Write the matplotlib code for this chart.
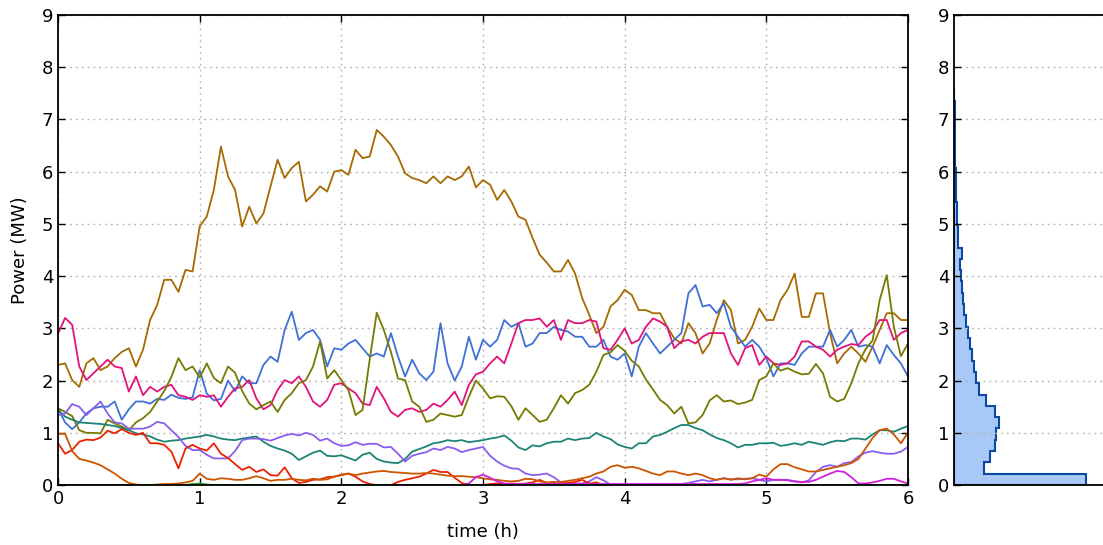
import numpy as np
import matplotlib
matplotlib.use("Agg")
import matplotlib.pyplot as plt

plt.rc('font', size=13)

# time axis: one reading every 0.05 h
time = np.linspace(0, 6, 121)

gold = [2.30, 2.33, 2.01, 1.88, 2.33, 2.43, 2.20, 2.27, 2.43, 2.55,
        2.62, 2.27, 2.59, 3.16, 3.45, 3.93, 3.93, 3.70, 4.12, 4.09,
        4.95, 5.14, 5.65, 6.48, 5.91, 5.65, 4.95, 5.33, 5.01, 5.20,
        5.72, 6.23, 5.88, 6.07, 6.19, 5.43, 5.56, 5.72, 5.62, 6.00,
        6.03, 5.94, 6.42, 6.26, 6.29, 6.80, 6.67, 6.51, 6.29, 5.97,
        5.88, 5.84, 5.78, 5.91, 5.78, 5.91, 5.84, 5.91, 6.10, 5.70,
        5.84, 5.75, 5.46, 5.65, 5.43, 5.14, 5.08, 4.73, 4.41, 4.26,
        4.09, 4.09, 4.31, 4.05, 3.58, 3.26, 2.91, 3.03, 3.42, 3.54,
        3.74, 3.64, 3.35, 3.35, 3.29, 3.29, 3.03, 2.81, 2.71, 3.10,
        2.91, 2.52, 2.71, 3.16, 3.54, 3.35, 2.71, 2.78, 3.03, 3.38,
        3.16, 3.16, 3.54, 3.74, 4.05, 3.22, 3.22, 3.67, 3.67, 2.91,
        2.33, 2.52, 2.65, 2.52, 2.36, 2.65, 2.97, 3.29, 3.29, 3.16, 3.16]

blue = [1.47, 1.20, 1.07, 1.20, 1.37, 1.47, 1.50, 1.50, 1.60, 1.25,
        1.45, 1.60, 1.60, 1.56, 1.65, 1.63, 1.73, 1.67, 1.65, 1.68,
        2.20, 1.75, 1.62, 1.65, 2.00, 1.80, 2.08, 1.95, 1.95, 2.30,
        2.46, 2.36, 2.97, 3.32, 2.78, 2.91, 2.97, 2.78, 2.27, 2.62,
        2.59, 2.71, 2.78, 2.62, 2.46, 2.52, 2.46, 2.91, 2.46, 2.08,
        2.40, 2.14, 2.01, 2.17, 3.10, 2.33, 2.00, 2.27, 2.84, 2.40,
        2.78, 2.65, 2.78, 3.16, 3.03, 3.10, 2.65, 2.71, 2.91, 2.91,
        3.03, 2.97, 2.94, 2.84, 2.84, 2.65, 2.65, 2.78, 2.46, 2.40,
        2.52, 2.08, 2.65, 2.91, 2.71, 2.52, 2.65, 2.78, 2.91, 3.67,
        3.83, 3.42, 3.45, 3.29, 3.48, 3.03, 2.84, 2.65, 2.78, 2.65,
        2.43, 2.08, 2.33, 2.33, 2.30, 2.52, 2.65, 2.65, 2.65, 2.97,
        2.65, 2.78, 2.97, 2.65, 2.68, 2.65, 2.33, 2.68, 2.49, 2.33, 2.08]

magenta = [2.90, 3.20, 3.07, 2.27, 2.01, 2.14, 2.27, 2.40, 2.27, 2.24,
           1.79, 2.08, 1.72, 1.88, 1.79, 1.88, 1.92, 1.72, 1.69, 1.63,
           1.72, 1.69, 1.72, 1.50, 1.69, 1.85, 1.88, 2.01, 1.66, 1.45,
           1.53, 1.82, 2.01, 1.95, 2.08, 1.88, 1.60, 1.50, 1.63, 1.92,
           1.95, 1.85, 1.76, 1.56, 1.53, 1.88, 1.66, 1.40, 1.31, 1.44,
           1.47, 1.40, 1.44, 1.56, 1.50, 1.63, 1.79, 1.53, 1.92, 2.12,
           2.17, 2.33, 2.46, 2.33, 2.71, 3.10, 3.16, 3.16, 3.19, 3.03,
           3.16, 2.78, 3.16, 3.10, 3.10, 3.16, 3.13, 2.62, 2.59, 2.78,
           3.00, 2.71, 2.78, 3.03, 3.19, 3.13, 3.03, 2.62, 2.75, 2.78,
           2.71, 2.84, 2.91, 2.91, 2.91, 2.52, 2.30, 2.62, 2.68, 2.30,
           2.46, 2.33, 2.30, 2.33, 2.46, 2.75, 2.75, 2.65, 2.59, 2.46,
           2.59, 2.65, 2.70, 2.68, 2.84, 2.94, 3.16, 3.16, 2.78, 2.91, 2.97]

olive = [1.47, 1.40, 1.32, 1.05, 1.00, 1.00, 0.99, 1.25, 1.18, 1.12,
         1.05, 1.20, 1.28, 1.40, 1.60, 1.80, 2.07, 2.43, 2.20, 2.27,
         2.06, 2.33, 2.05, 1.95, 2.27, 2.15, 1.80, 1.56, 1.45, 1.53,
         1.60, 1.40, 1.63, 1.76, 1.95, 2.01, 2.27, 2.75, 2.04, 2.20,
         2.01, 1.82, 1.34, 1.44, 2.40, 3.30, 2.97, 2.55, 2.04, 2.01,
         1.60, 1.50, 1.21, 1.25, 1.37, 1.34, 1.31, 1.34, 1.69, 2.00,
         1.85, 1.66, 1.70, 1.69, 1.51, 1.25, 1.47, 1.34, 1.21, 1.25,
         1.47, 1.72, 1.56, 1.76, 1.82, 1.92, 2.17, 2.49, 2.54, 2.68,
         2.57, 2.38, 2.27, 2.02, 1.83, 1.63, 1.53, 1.37, 1.50, 1.18,
         1.20, 1.34, 1.62, 1.72, 1.60, 1.62, 1.55, 1.58, 1.63, 2.01,
         2.08, 2.33, 2.19, 2.24, 2.17, 2.12, 2.13, 2.32, 2.14, 1.69,
         1.60, 1.65, 1.95, 2.33, 2.60, 2.77, 3.54, 4.02, 3.03, 2.47, 2.71]

teal = [1.44, 1.31, 1.25, 1.20, 1.19, 1.18, 1.17, 1.15, 1.13, 1.09,
        1.05, 0.99, 0.97, 0.93, 0.87, 0.83, 0.85, 0.86, 0.89, 0.91,
        0.93, 0.96, 0.93, 0.89, 0.87, 0.86, 0.89, 0.91, 0.93, 0.83,
        0.75, 0.70, 0.66, 0.60, 0.48, 0.55, 0.62, 0.66, 0.56, 0.55,
        0.57, 0.52, 0.47, 0.58, 0.62, 0.50, 0.45, 0.43, 0.42, 0.50,
        0.64, 0.69, 0.74, 0.80, 0.82, 0.86, 0.84, 0.86, 0.82, 0.84,
        0.86, 0.89, 0.91, 0.95, 0.85, 0.72, 0.67, 0.76, 0.74, 0.80,
        0.83, 0.83, 0.89, 0.86, 0.89, 0.90, 1.00, 0.93, 0.88, 0.78,
        0.73, 0.70, 0.80, 0.80, 0.93, 0.96, 1.02, 1.09, 1.15, 1.15,
        1.09, 1.05, 0.97, 0.90, 0.86, 0.80, 0.72, 0.77, 0.77, 0.80,
        0.80, 0.81, 0.75, 0.77, 0.80, 0.77, 0.83, 0.80, 0.77, 0.82,
        0.85, 0.84, 0.89, 0.89, 0.87, 0.97, 1.05, 1.05, 1.02, 1.08, 1.13]

purple = [1.34, 1.37, 1.55, 1.50, 1.34, 1.47, 1.60, 1.37, 1.20, 1.18,
          1.08, 1.08, 1.08, 1.12, 1.21, 1.18, 1.05, 0.92, 0.75, 0.67,
          0.67, 0.58, 0.51, 0.51, 0.51, 0.65, 0.86, 0.89, 0.89, 0.88,
          0.85, 0.90, 0.95, 0.98, 0.95, 1.00, 0.96, 0.85, 0.89, 0.80,
          0.75, 0.76, 0.82, 0.77, 0.79, 0.79, 0.72, 0.73, 0.60, 0.45,
          0.56, 0.60, 0.63, 0.70, 0.67, 0.73, 0.70, 0.63, 0.67, 0.70,
          0.73, 0.56, 0.45, 0.37, 0.32, 0.31, 0.22, 0.19, 0.20, 0.22,
          0.15, 0.05, 0.03, 0.03, 0.03, 0.07, 0.15, 0.09, 0.01, 0.00,
          0.00, 0.01, 0.00, 0.00, 0.01, 0.00, 0.00, 0.01, 0.02, 0.04,
          0.07, 0.10, 0.07, 0.10, 0.13, 0.11, 0.11, 0.12, 0.13, 0.10,
          0.07, 0.10, 0.10, 0.10, 0.07, 0.05, 0.09, 0.25, 0.35, 0.38,
          0.35, 0.42, 0.44, 0.55, 0.62, 0.65, 0.62, 0.60, 0.60, 0.64, 0.73]

red = [0.80, 0.60, 0.67, 0.83, 0.87, 0.86, 0.91, 1.04, 0.99, 1.07,
       1.00, 0.96, 1.00, 0.80, 0.80, 0.77, 0.64, 0.32, 0.70, 0.77,
       0.70, 0.66, 0.80, 0.60, 0.52, 0.40, 0.29, 0.35, 0.25, 0.30,
       0.19, 0.18, 0.34, 0.13, 0.04, 0.06, 0.10, 0.11, 0.15, 0.16,
       0.19, 0.22, 0.16, 0.07, 0.02, 0.00, 0.00, 0.00, 0.06, 0.10,
       0.13, 0.16, 0.22, 0.29, 0.25, 0.25, 0.14, 0.04, 0.00, 0.00,
       0.00, 0.02, 0.03, 0.02, 0.03, 0.02, 0.03, 0.05, 0.10, 0.04,
       0.06, 0.03, 0.04, 0.06, 0.10, 0.03, 0.05, 0.00, 0.00, 0.00,
       0.00, 0.00, 0.00, 0.00, 0.00, 0.00, 0.00, 0.00, 0.00, 0.00,
       0.00, 0.00, 0.00, 0.00, 0.00, 0.00, 0.00, 0.00, 0.00, 0.00,
       0.00, 0.00, 0.00, 0.00, 0.00, 0.00, 0.00, 0.00, 0.00, 0.00,
       0.00, 0.00, 0.00, 0.00, 0.00, 0.00, 0.00, 0.00, 0.00, 0.00, 0.00]

orange = [0.98, 0.98, 0.65, 0.50, 0.47, 0.43, 0.38, 0.30, 0.22, 0.12,
          0.04, 0.01, 0.00, 0.00, 0.01, 0.02, 0.02, 0.03, 0.05, 0.08,
          0.22, 0.12, 0.10, 0.13, 0.12, 0.10, 0.10, 0.13, 0.17, 0.13,
          0.08, 0.10, 0.10, 0.12, 0.10, 0.09, 0.12, 0.10, 0.11, 0.16,
          0.20, 0.22, 0.19, 0.22, 0.24, 0.26, 0.27, 0.25, 0.24, 0.23,
          0.22, 0.22, 0.23, 0.22, 0.20, 0.18, 0.17, 0.17, 0.16, 0.15,
          0.13, 0.11, 0.10, 0.08, 0.07, 0.08, 0.12, 0.11, 0.07, 0.05,
          0.05, 0.06, 0.08, 0.10, 0.13, 0.16, 0.22, 0.26, 0.35, 0.38,
          0.33, 0.35, 0.32, 0.27, 0.22, 0.19, 0.26, 0.26, 0.22, 0.19,
          0.22, 0.19, 0.13, 0.10, 0.13, 0.10, 0.13, 0.11, 0.13, 0.20,
          0.16, 0.30, 0.40, 0.40, 0.34, 0.30, 0.26, 0.26, 0.29, 0.32,
          0.35, 0.38, 0.42, 0.50, 0.70, 0.90, 1.05, 1.08, 0.97, 0.80, 1.00]

violet = [0.00] * 58 + [0.03, 0.15, 0.20, 0.14, 0.07, 0.03] + [0.02] * 33 + \
         [0.03, 0.07, 0.10, 0.13, 0.10, 0.10, 0.09, 0.07, 0.06, 0.06,
          0.10, 0.16, 0.22, 0.27, 0.25, 0.15, 0.03, 0.03, 0.05, 0.08,
          0.12, 0.12, 0.07, 0.03]

green = [0.00] * 19 + [0.02, 0.03, 0.01] + [0.00] * 99

series = [gold, blue, magenta, olive, teal, purple, red, orange, violet, green]
colors = ['#a66a00', '#3f70d6', '#e2127a', '#777a00', '#1b8475',
          '#8b5cf0', '#ee2200', '#cc5500', '#cc22dd', '#22a022']

# histogram of all generated power values (bar lengths)
hist_edges = np.linspace(0, 7.58, 36)
hist_counts = [132, 30.3, 36, 41, 42, 44.7, 41, 32, 24.7, 22,
               20, 18, 16, 14, 12, 10, 9, 8, 7, 6.3,
               8.3, 4.3, 4, 3.3, 2.7, 2.3, 2.0, 1.7, 1.5, 1.3,
               1.1, 1.0, 0.8, 0.6, 0.3]

fig = plt.figure(figsize=(11.03, 5.45), dpi=100)
ax = fig.add_axes([0.0526, 0.110, 0.7706, 0.8624])
ax2 = fig.add_axes([0.8649, 0.110, 0.1432, 0.8624])

for vals, c in zip(series, colors):
    ax.plot(time, vals, color=c, lw=1.3)

grid_style = dict(color='#b0b0b0', linestyle=(0, (1.2, 3)), linewidth=1.0)

ax.set_xlim(0, 6)
ax.set_ylim(0, 9)
ax.set_xticks(range(7))
ax.set_yticks(range(10))
ax.grid(True, **grid_style)
ax.tick_params(direction='in', length=5, width=1, top=True, right=True)
ax.set_xlabel('time (h)', labelpad=11)
ax.set_ylabel('Power (MW)', labelpad=9)

centers = (hist_edges[:-1] + hist_edges[1:]) / 2
ax2.hist(centers, bins=hist_edges, weights=hist_counts, orientation='horizontal',
         histtype='stepfilled', facecolor='#a8c8f8', edgecolor='#0b4aa2', lw=1.5)
ax2.set_ylim(0, 9)
ax2.set_xlim(0, 158)
ax2.set_yticks(range(10))
ax2.set_xticks([])
ax2.yaxis.grid(True, **grid_style)
ax2.tick_params(direction='in', length=5, width=1)
ax2.spines['right'].set_visible(False)

for a in (ax, ax2):
    for s in a.spines.values():
        s.set_linewidth(1.3)

plt.savefig('out.png', dpi=100)
